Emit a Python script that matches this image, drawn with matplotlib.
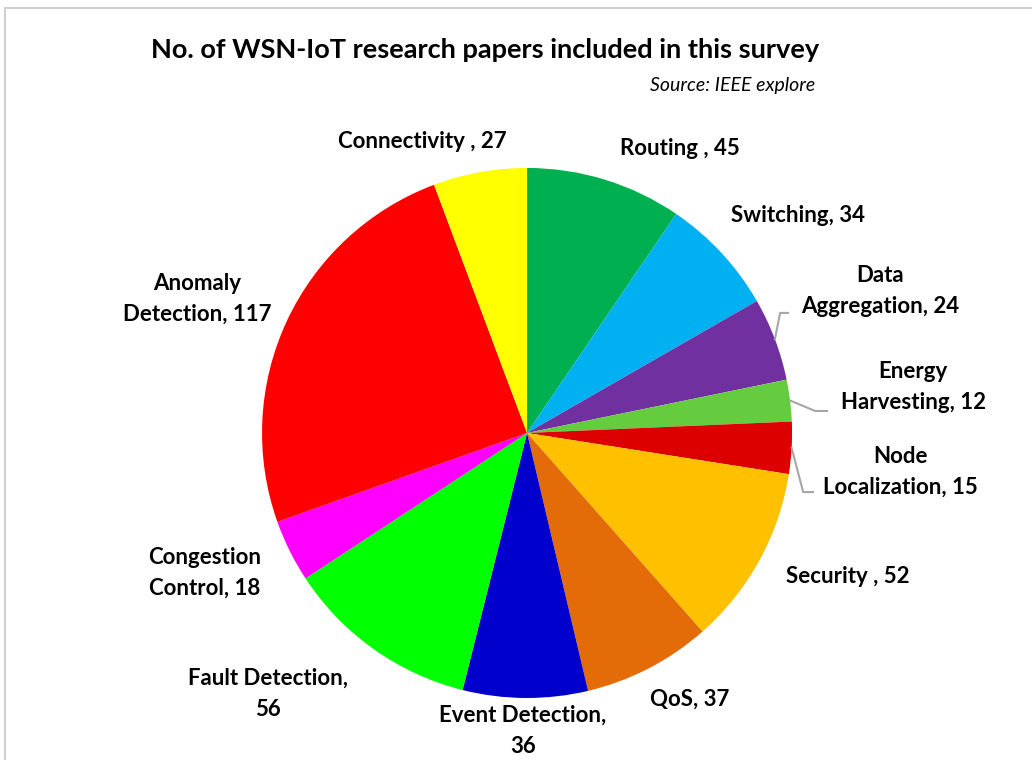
import numpy as np
import matplotlib.pyplot as plt
from matplotlib.patches import Rectangle

# data, clockwise from 12 o'clock
topics = ["Routing", "Switching", "Data Aggregation", "Energy Harvesting",
          "Node Localization", "Security", "QoS", "Event Detection",
          "Fault Detection", "Congestion Control", "Anomaly Detection", "Connectivity"]
papers = [45, 34, 24, 12, 15, 52, 37, 36, 56, 18, 117, 27]
label_text = ["Routing , 45", "Switching, 34", "Data\nAggregation, 24",
              "Energy\nHarvesting, 12", "Node\nLocalization, 15", "Security , 52",
              "QoS, 37", "Event Detection,\n36", "Fault Detection,\n56",
              "Congestion\nControl, 18", "Anomaly\nDetection, 117", "Connectivity , 27"]
colors = ["#00B050", "#00B0F0", "#7030A0", "#66CC3F", "#DD0000", "#FFC000",
          "#E36C09", "#0000CC", "#00FF00", "#FF00FF", "#FF0000", "#FFFF00"]

# label placement (data units, pie radius = 1)
label_pos = [(0.577, 1.072), (1.023, 0.819), (1.332, 0.536), (1.457, 0.174),
             (1.41, -0.147), (1.211, -0.540), (0.615, -1.004), (-0.015, -1.125),
             (-0.977, -0.985), (-1.215, -0.528), (-1.245, 0.506), (-0.396, 1.098)]

plt.rcParams['font.family'] = ['Lato', 'DejaVu Sans']

fig = plt.figure(figsize=(10.32, 7.6), dpi=100)
fig.patches.append(Rectangle((0.0048, -0.1), 2, 1.0895, transform=fig.transFigure,
                             fill=False, edgecolor="#D0D0D0", lw=1.5))

ax = fig.add_axes([0.2539, 0.0816, 0.5136, 0.6974])
wedges, _ = ax.pie(papers, colors=colors, startangle=90, counterclock=False,
                   radius=1, wedgeprops=dict(linewidth=0))
ax.set_xlim(-1, 1)
ax.set_ylim(-1, 1)
ax.axis("off")

for txt, (x, y) in zip(label_text, label_pos):
    ax.text(x, y, txt, ha="center", va="center", fontsize=16, fontweight="bold",
            linespacing=1.6, clip_on=False)

# leader lines for the small slices
elbows = {2: [(0.955, 0.453), (0.985, 0.453)],
          3: [(1.087, 0.083), (1.132, 0.083)],
          4: [(1.042, -0.223), (1.079, -0.223)]}
for i, pts in elbows.items():
    w = wedges[i]
    ang = np.deg2rad((w.theta1 + w.theta2) / 2)
    xs = [np.cos(ang)] + [p[0] for p in pts]
    ys = [np.sin(ang)] + [p[1] for p in pts]
    ax.plot(xs, ys, color="#A6A6A6", lw=1.5, clip_on=False)

fig.text(0.47, 0.934, "No. of WSN-IoT research papers included in this survey",
         ha="center", va="center", fontsize=19.5, fontweight="bold")
fig.text(0.79, 0.888, "Source: IEEE explore", ha="right", va="center",
         fontsize=14, style="italic")

fig.savefig("out.png", dpi=100)
